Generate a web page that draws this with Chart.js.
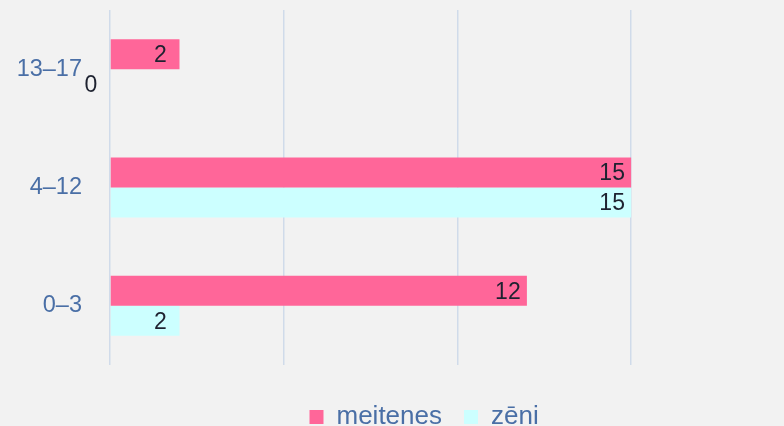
<!DOCTYPE html>
<html>
<head>
<meta charset="utf-8">
<script src="https://cdn.jsdelivr.net/npm/chart.js@4"></script>
<style>
  html, body { margin: 0; padding: 0; background: #F2F2F2; overflow: hidden; }
  #wrap { width: 784px; height: 440px; position: relative; }
</style>
</head>
<body>
<div id="wrap"><canvas id="c"></canvas></div>
<script>
const categories = ['13–17', '4–12', '0–3'];
const seriesNames = ['meitenes', 'zēni'];
const meitenes = [2, 15, 12];
const zeni = [0, 15, 2];

const FONT = '"Liberation Sans", Arial, sans-serif';

const valueLabels = {
  id: 'valueLabels',
  afterDatasetsDraw(chart) {
    const ctx = chart.ctx;
    ctx.save();
    ctx.font = '23px ' + FONT;
    ctx.fillStyle = '#1e2230';
    ctx.textAlign = 'center';
    ctx.textBaseline = 'middle';
    chart.data.datasets.forEach((ds, i) => {
      const meta = chart.getDatasetMeta(i);
      meta.data.forEach((bar, j) => {
        ctx.fillText(String(ds.data[j]), bar.x - 19, bar.y + 1.5);
      });
    });
    ctx.restore();
  }
};

new Chart(document.getElementById('c'), {
  type: 'bar',
  data: {
    labels: categories,
    datasets: [
      { label: seriesNames[0], data: meitenes, backgroundColor: '#FF6699', borderWidth: 0 },
      { label: seriesNames[1], data: zeni, backgroundColor: '#CCFFFF', borderWidth: 0 }
    ]
  },
  options: {
    indexAxis: 'y',
    responsive: true,
    maintainAspectRatio: false,
    animation: false,
    layout: { padding: { top: 10, left: 0, right: -64.2, bottom: 0 } },
    datasets: { bar: { categoryPercentage: 0.507, barPercentage: 1.0 } },
    scales: {
      x: {
        min: 0,
        max: 19.4,
        ticks: { display: false, stepSize: 5 },
        border: { display: false },
        grid: {
          drawTicks: false,
          lineWidth: 1.5,
          color: (c) => (c.tick && c.tick.value % 5 === 0) ? '#D0DBEA' : 'rgba(0,0,0,0)'
        },
        afterFit: (s) => { s.height = 17; s.paddingLeft = 0; s.paddingRight = 0; }
      },
      y: {
        grid: { display: true, drawOnChartArea: false, drawTicks: true, tickLength: 28, color: 'rgba(0,0,0,0)' },
        border: { display: false },
        ticks: {
          color: '#4A6FA6',
          font: { family: FONT, size: 23.5 },
          padding: 0
        },
        afterFit: (s) => { s.width = 110; s.paddingTop = 0; s.paddingBottom = 0; }
      }
    },
    plugins: {
      legend: {
        position: 'bottom',
        labels: {
          boxWidth: 14,
          boxHeight: 14,
          padding: 22,
          color: '#4A6FA6',
          font: { family: FONT, size: 26 }
        }
      },
      tooltip: { enabled: false }
    }
  },
  plugins: [valueLabels]
});
</script>
</body>
</html>
